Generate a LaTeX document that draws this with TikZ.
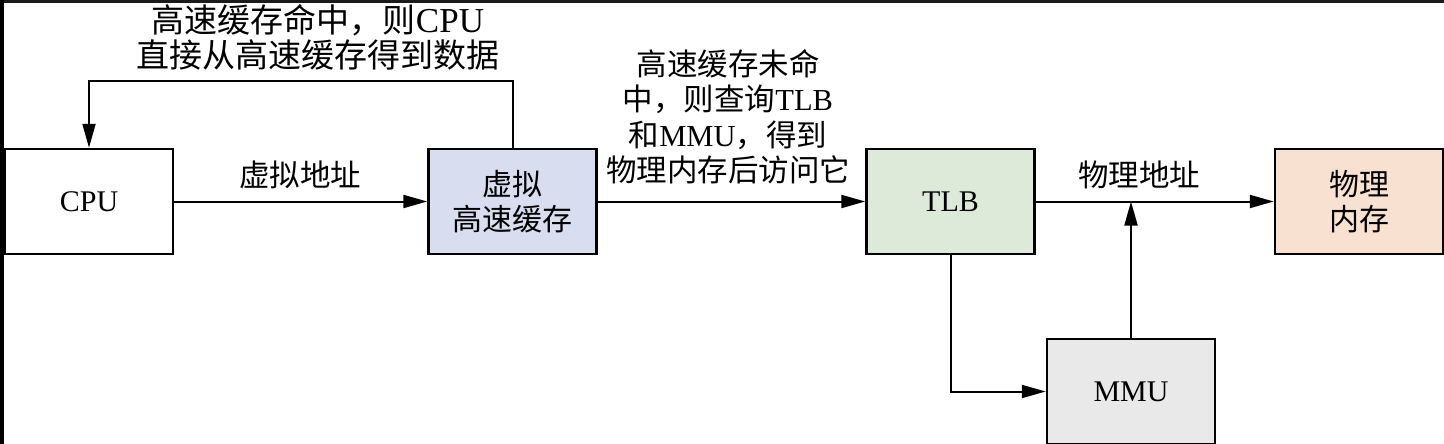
\documentclass[tikz,border=0pt]{standalone}
\usepackage{fontspec}
\setmainfont{Liberation Serif}
\newfontfamily\cjk{Noto Sans CJK SC}
\usetikzlibrary{arrows.meta}
\definecolor{cachefill}{RGB}{216,221,240}
\definecolor{tlbfill}{RGB}{221,233,217}
\definecolor{memfill}{RGB}{249,225,209}
\definecolor{mmufill}{RGB}{233,233,233}
\definecolor{edgedark}{RGB}{26,26,26}
\tikzset{
  unitbox/.style={draw=black, line width=2.5pt, minimum width=168pt, minimum height=105pt, inner sep=0pt, align=center, font=\fontsize{30}{35}\selectfont},
  conn/.style={line width=2pt, -{Triangle[length=24pt,width=13pt]}},
  lbl/.style={align=center, inner sep=0pt, font=\fontsize{30.5}{35.5}\selectfont},
  toplbl/.style={align=center, inner sep=0pt, font=\fontsize{33}{35}\selectfont}
}
\begin{document}
\begin{tikzpicture}[x=1pt,y=-1pt]
\useasboundingbox (0,0) rectangle (1444,444);
\fill[white] (0,0) rectangle (1444,444);
\fill[edgedark] (0,0) rectangle (1444,3);
\fill[black] (0,0) rectangle (4,444);

\node[unitbox, fill=white] (cpu) at (89,201.5) {CPU};
\node[unitbox, fill=cachefill] (cache) at (512.5,201.5) {{\cjk 虚拟}\\{\cjk 高速缓存}};
\node[unitbox, fill=tlbfill] (tlb) at (950.5,201.5) {TLB};
\node[unitbox, fill=memfill] (mem) at (1359,201.5) {{\cjk 物理}\\{\cjk 内存}};
\node[unitbox, fill=mmufill] (mmu) at (1131,391.5) {MMU};

\draw[conn] (cpu.east) -- (cache.west);
\draw[conn] (cache.east) -- (tlb.west);
\draw[conn] (tlb.east) -- (mem.west);
\draw[conn] (tlb.south) |- (mmu.west);
\coordinate (join) at (mmu.north |- tlb.east);
\draw[conn] (mmu.north) -- (join);
\draw[conn] (cache.north) -- ++(0,-67) -| (cpu.north);

\node[toplbl] (hitlbl) at (318,37) {{\cjk 高速缓存命中，则}{\fontsize{35}{35}\selectfont CPU}\\{\cjk 直接从高速缓存得到数据}};
\node[lbl] (vaddr) at (300,175) {\cjk 虚拟地址};
\node[lbl] (misslbl) at (728,117) {{\cjk 高速缓存未命}\\{\cjk 中，则查询}TLB\\{\cjk 和}MMU{\cjk ，得到}\\{\cjk 物理内存后访问它}};
\node[lbl] (paddr) at (1139,175) {\cjk 物理地址};
\end{tikzpicture}
\end{document}
